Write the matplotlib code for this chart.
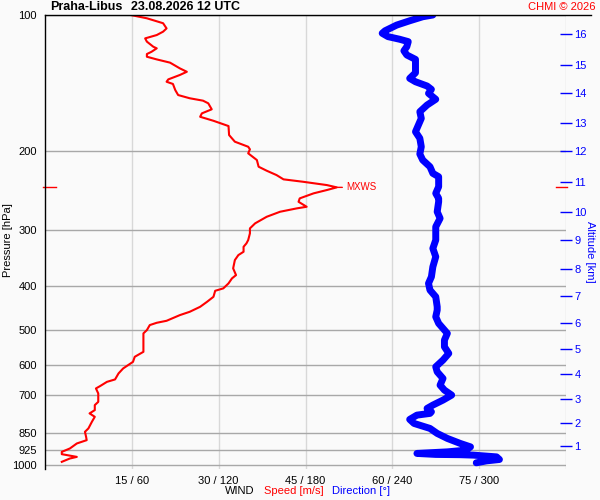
import numpy as np
import matplotlib
matplotlib.use("Agg")
import matplotlib.pyplot as plt
from matplotlib.ticker import NullLocator, NullFormatter
from matplotlib.lines import Line2D

plt.rcParams["font.family"] = ["Liberation Sans", "DejaVu Sans"]

station = "Praha-Libus"
stamp = "23.08.2026 12 UTC"
credit = "CHMI \u00a9 2026"

# wind speed profile [hPa], [m/s]
speed_p = [100, 101.7, 104.3, 107.1, 108.9, 110.8, 112.7, 114.6, 117.6, 118.6, 120.7, 122.1, 123.8,
           125.5, 127.6, 131.4, 133.7, 135.9, 139.0, 140.7, 142.3, 146.8, 150.6,
           153.1, 155.0, 157.1, 162.0, 165.4, 168.3, 171.8, 176.5, 184.8, 191.2,
           196.2, 198.8, 202.9, 210.0, 217.3, 221.8, 226.8, 231.8, 234.7, 238.7,
           241.5, 244.8, 249.0, 255.5, 260.0, 266.7, 268.9, 273.6, 280.7, 290.3,
           297.9, 305.6, 316.2, 321.6, 327.3, 335.7, 341.5, 350.3, 365.5, 378.3,
           384.7, 394.7, 404.9, 409.9, 422.7, 433.6, 444.9, 456.4, 464.2, 477.9,
           482.8, 488.5, 501.2, 509.7, 560.1, 574.6, 589.6, 609.8, 625.6, 645.1,
           653.1, 667.6, 675.5, 693.0, 723.5, 735.6, 754.7, 767.5, 781.0, 801.2,
           828.8, 843.3, 865.2, 880.1, 895.1, 918.3, 934.4, 945.5, 958.7, 966.6, 983.3]
speed_ms = [14.8, 17.6, 20.4, 21.0, 20.4, 19.3, 17.3, 17.6, 18.7, 19.3, 18.4, 17.6, 17.6,
            19.3, 21.6, 23.3, 24.5, 23.3, 21.3, 21.0, 22.1, 22.5, 23.0,
            25.0, 27.3, 28.2, 28.8, 27.1, 26.8, 29.1, 31.7, 31.8, 32.8,
            35.1, 35.4, 35.1, 36.6, 36.9, 38.3, 40.0, 41.2, 44.6, 48.7,
            50.4, 48.7, 46.4, 44.0, 43.8, 45.2, 43.5, 40.6, 38.3, 36.3,
            35.4, 35.4, 35.1, 34.8, 34.3, 34.3, 33.4, 32.8, 32.5, 33.0,
            32.3, 31.7, 30.8, 29.4, 29.1, 28.0, 26.8, 25.0, 23.3, 21.0,
            19.3, 18.1, 17.6, 17.0, 17.0, 15.5, 15.2, 13.5, 12.7, 12.1,
            10.7, 9.5, 8.8, 9.2, 9.2, 8.6, 8.6, 7.7, 8.6, 8.1,
            7.5, 6.9, 7.1, 7.2, 5.5, 4.3, 2.9, 2.9, 5.5, 4.3, 2.9]

# wind direction profile [hPa], [deg]
dir_p = [100, 100.9, 103.0, 105.3, 108.4, 109.8, 111.7, 113.2, 114.6, 117.6,
         120.1, 122.7, 125.5, 130.3, 134.4, 138.3, 140.7, 143.8, 146.3, 149.3,
         153.9, 158.5, 164.0, 169.7, 175.6, 181.7, 187.9, 196.2, 203.6, 210.0,
         217.3, 224.8, 228.7, 234.7, 240.7, 249.0, 255.5, 260.0, 273.6, 283.0,
         295.4, 316.2, 330.0, 344.4, 362.6, 381.6, 394.7, 408.4, 422.7, 444.9,
         452.5, 468.2, 484.3, 496.8, 509.7, 527.5, 545.9, 564.7, 584.3, 604.7,
         620.5, 641.8, 664.2, 681.3, 698.9, 717.0, 735.6, 748.2, 761.3, 767.5,
         774.3, 791.5, 807.9, 828.8, 850.3, 872.3, 895.1, 910.8, 926.3, 934.4,
         941.9, 946.7, 948.0, 950.1, 958.7, 971.5, 978.5, 988.3]
dir_deg = [268, 261, 252, 243, 235, 233, 237, 245, 251, 250,
           248, 250, 256, 256, 256, 252, 256, 264, 267, 265,
           270, 264, 259, 260, 258, 256, 259, 260, 259, 261,
           266, 268, 272, 272, 272, 270, 272, 272, 271, 273,
           270, 270, 268, 270, 268, 267, 265, 266, 270, 271,
           271, 270, 272, 275, 278, 276, 276, 279, 275, 270,
           271, 275, 273, 276, 281, 275, 268, 264, 267, 266,
           257, 252, 255, 266, 271, 278, 287, 294, 291, 278,
           257, 270, 287, 296, 312, 314, 305, 298]

pressure_ticks = [100, 200, 300, 400, 500, 600, 700, 850, 925, 1000]
speed_ticks = [15, 30, 45, 60, 75, 90]
alt_km = [1, 2, 3, 4, 5, 6, 7, 8, 9, 10, 11, 12, 13, 14, 15, 16]
alt_p = [907, 805, 713, 628, 552, 484, 421, 366, 316, 274, 235, 201, 174, 149, 129, 110]

W, H = 600, 500
bg = "#fafafa"
fig = plt.figure(figsize=(6, 5), dpi=100, facecolor=bg)
ax = fig.add_axes([45 / W, 1 - 469 / H, 521 / W, 454 / H])
ax.set_facecolor(bg)
ax.set_yscale("log")
ax.set_ylim(1020, 100)
ax.set_xlim(0, 360)

ax.set_yticks(pressure_ticks)
ax.set_yticklabels([str(p) for p in pressure_ticks])
ax.yaxis.set_minor_locator(NullLocator())
ax.yaxis.set_minor_formatter(NullFormatter())
ax.set_xticks([s * 4 for s in speed_ticks])
ax.set_xticklabels(["%d / %d" % (s, s * 4) if s < 90 else "" for s in speed_ticks])
ax.tick_params(axis="both", length=0, labelsize=8, colors="black")
ax.tick_params(axis="y", pad=6)
ax.tick_params(axis="x", pad=5)
ax.yaxis.grid(True, color="#a8a8a8", lw=1)
ax.xaxis.grid(True, color="#d8d8d8", lw=1)
ax.set_axisbelow(True)
for side in ["top", "right", "bottom"]:
    ax.spines[side].set_visible(False)
ax.spines["left"].set_color("black")
ax.spines["left"].set_linewidth(1)

ax.plot(dir_deg, dir_p, color="blue", lw=5, solid_capstyle="round", solid_joinstyle="round")
ax.plot(np.array(speed_ms) * 4, speed_p, color="red", lw=1.5)

# max wind
i = int(np.argmax(speed_ms))
pm = speed_p[i]
ax.annotate("MXWS", xy=(speed_ms[i] * 4, pm), xytext=(7, 0), textcoords="offset points",
            ha="left", va="center", color="red", fontsize=7,
            arrowprops=dict(arrowstyle="-", color="red", lw=1, shrinkA=1, shrinkB=0))
tr = ax.get_yaxis_transform()
ax.plot([-0.004, 0.021], [pm, pm], transform=tr, color="red", lw=1, clip_on=False)
ax.plot([0.98, 1.002], [pm, pm], transform=tr, color="red", lw=1, clip_on=False)

# altitude axis
ax2 = ax.twinx()
ax2.set_yscale("log")
ax2.set_ylim(1020, 100)
ax2.set_yticks(alt_p)
ax2.set_yticklabels([str(k) for k in alt_km])
ax2.yaxis.set_minor_locator(NullLocator())
ax2.yaxis.set_minor_formatter(NullFormatter())
ax2.tick_params(axis="y", direction="inout", length=8, width=1, color="blue",
                labelcolor="blue", labelsize=8, pad=2)
for side in ax2.spines:
    ax2.spines[side].set_visible(False)

fig.add_artist(Line2D([45 / W, 591 / W], [1 - 15 / H, 1 - 15 / H], color="black", lw=1))

fig.text(50 / W, 1 - 7 / H, station, fontsize=9, fontweight="bold", va="center", ha="left")
fig.text(131 / W, 1 - 7 / H, stamp, fontsize=9, fontweight="bold", va="center", ha="left")
fig.text(596 / W, 1 - 7 / H, credit, fontsize=8, color="red", va="center", ha="right")

fig.text(8 / W, 1 - 240 / H, "Pressure [hPa]", rotation=90, fontsize=8, va="center", ha="center")
fig.text(590 / W, 1 - 252 / H, "Altitude [km]", rotation=270, fontsize=8, color="blue",
         va="center", ha="center")

fig.text(225 / W, 1 - 491 / H, "WIND", fontsize=8, va="center", ha="left")
fig.text(264 / W, 1 - 491 / H, "Speed [m/s]", fontsize=8, color="red", va="center", ha="left")
fig.text(332 / W, 1 - 491 / H, "Direction [\u00b0]", fontsize=8, color="blue", va="center", ha="left")

fig.savefig("out.png", dpi=100, facecolor=bg)
